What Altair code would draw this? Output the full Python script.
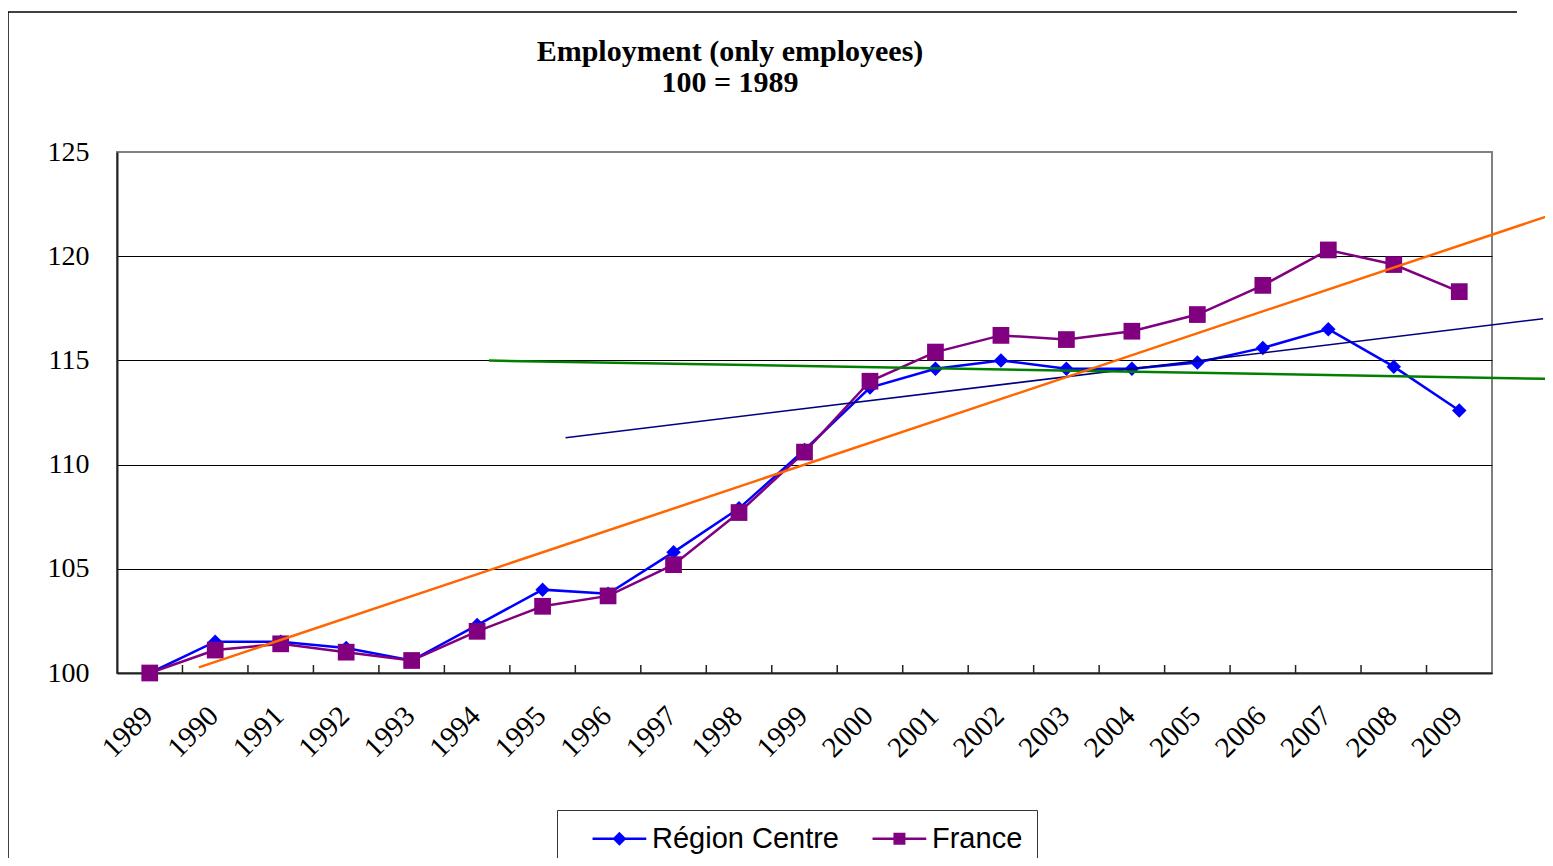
import altair as alt
import pandas as pd

# ---------------- data ----------------
years = list(range(1989, 2010))
region_centre = [100.0, 101.5, 101.5, 101.2, 100.6, 102.3, 104.0, 103.8, 105.8, 107.9,
                 110.7, 113.7, 114.6, 115.0, 114.6, 114.6, 114.9, 115.6, 116.5, 114.7, 112.6]
france = [100.0, 101.1, 101.4, 101.0, 100.6, 102.0, 103.2, 103.7, 105.2, 107.7,
          110.6, 114.0, 115.4, 116.2, 116.0, 116.4, 117.2, 118.6, 120.3, 119.6, 118.3]
series_names = ["Région Centre", "France"]
series_colors = ["#0000FF", "#800080"]

title_lines = ["Employment (only employees)", "100 = 1989"]
y_ticks = [100, 105, 110, 115, 120, 125]

# hand-drawn trend lines (start / end, in year and index units)
trend_orange_x = [1989.75, 2010.43]
trend_orange_y = [100.27, 122.01]
trend_navy_x = [1995.35, 2010.28]
trend_navy_y = [111.29, 117.0]
trend_green_x = [1994.18, 2010.43]
trend_green_y = [114.99, 114.11]

# ---------------- layout ----------------
W, H = 1375, 521
SERIF = "Liberation Serif"
SANS = "Liberation Sans"

xscale = alt.Scale(domain=[1988.5, 2009.5], nice=False, zero=False)
yscale = alt.Scale(domain=[100, 125], nice=False, zero=False)
xaxis = alt.Axis(values=years, format="d", labelAngle=-45, ticks=False, grid=False,
                 labelAlign="right", labelBaseline="middle",
                 labelFont=SERIF, labelFontSize=29, labelColor="black", labelPadding=38,
                 labelOffset=-2,
                 labelFlush=False, labelOverlap=False, labelBound=False,
                 domainColor="#222", domainWidth=2, title=None)
yaxis = alt.Axis(values=y_ticks, ticks=False, grid=True, gridColor="black", gridWidth=1,
                 gridOpacity=alt.condition("datum.value == 125", alt.value(0), alt.value(1)),
                 labelFont=SERIF, labelFontSize=28, labelColor="black",
                 labelPadding=28, domainColor="#222", domainWidth=2, title=None)


def X(field):
    return alt.X(field, type="quantitative", scale=xscale, axis=xaxis)


def Y(field):
    return alt.Y(field, type="quantitative", scale=yscale, axis=yaxis)


df = pd.DataFrame({
    "year": years + years,
    "value": region_centre + france,
    "series": [series_names[0]] * len(years) + [series_names[1]] * len(years),
})

# band-boundary tick marks (pointing inwards)
tick_df = pd.DataFrame({"x": [y + 0.5 for y in years[:-1]], "y": [100] * (len(years) - 1)})
ticks = alt.Chart(tick_df).mark_rule(color="#222", strokeWidth=1.5).encode(
    x=X("x"), y=Y("y"), y2=alt.value(H - 8))

layers = [ticks]
marker_shape = ["diamond", "square"]
marker_size = [210, 280]
for name, color, shp, sz in zip(series_names, series_colors, marker_shape, marker_size):
    d = df[df["series"] == name]
    layers.append(alt.Chart(d).mark_line(color=color, strokeWidth=2.5).encode(
        x=X("year"), y=Y("value")))
    layers.append(alt.Chart(d).mark_point(shape=shp, filled=True, color=color, size=sz,
                                          opacity=1).encode(x=X("year"), y=Y("value")))

for tx, ty, color, sw in [(trend_navy_x, trend_navy_y, "#000080", 1.6),
                          (trend_green_x, trend_green_y, "#008000", 2.5),
                          (trend_orange_x, trend_orange_y, "#FF6600", 2.5)]:
    tdf = pd.DataFrame({"x": tx, "y": ty})
    layers.append(alt.Chart(tdf).mark_line(color=color, strokeWidth=sw, clip=False).encode(
        x=X("x"), y=Y("y")))

# legend (line + marker symbols)
diamond_path = "M1.08,0L9.35,0M5.22,-0.8L6.02,0L5.22,0.8L4.42,0Z"
square_path = "M1.08,0L9.35,0M4.49,-0.73L5.95,-0.73L5.95,0.73L4.49,0.73Z"
leg = alt.Legend(title=None, orient="none", legendX=440, legendY=658, direction="horizontal",
                 columns=2, symbolSize=169, symbolStrokeWidth=2.5, labelFont=SANS,
                 labelFontSize=29, labelColor="black", labelOffset=52, labelLimit=0,
                 padding=14, columnPadding=12, strokeColor="#333", fillColor="white")
legend_df = pd.DataFrame({"series": series_names})
legend_layer = alt.Chart(legend_df).transform_filter("false").mark_point(
    filled=True, opacity=1).encode(
    fill=alt.Fill("series:N", scale=alt.Scale(domain=series_names, range=series_colors), legend=leg),
    stroke=alt.Stroke("series:N", scale=alt.Scale(domain=series_names, range=series_colors), legend=leg),
    shape=alt.Shape("series:N", scale=alt.Scale(domain=series_names, range=[diamond_path, square_path]),
                    legend=leg),
)
layers.append(legend_layer)

# title text
one = alt.Data(values=[{}])
title_layer = alt.Chart(one).mark_text(font=SERIF, fontSize=30, fontWeight="bold", align="center",
                                       baseline="alphabetic", lineHeight=31, color="black").encode(
    x=alt.value(613), y=alt.value(-91.5), text=alt.value(title_lines))
layers.append(title_layer)

# outer frame (top and left edges)
frame_top = alt.Chart(one).mark_rule(color="black", strokeWidth=1.5).encode(
    x=alt.value(-109), x2=alt.value(1400), y=alt.value(-140))
frame_left = alt.Chart(one).mark_rule(color="black", strokeWidth=1.5).encode(
    x=alt.value(-109), y=alt.value(-140), y2=alt.value(720))
layers += [frame_top, frame_left]

chart = alt.layer(*layers).properties(
    width=W, height=H,
    autosize=alt.AutoSizeParams(type="none"),
    padding={"left": 109, "top": 144, "right": 53, "bottom": 185},
).configure_view(stroke="#808080", strokeWidth=2, fill="#FBEFD6")

chart.save("out.html", embed_options={"renderer": "svg", "actions": False})
